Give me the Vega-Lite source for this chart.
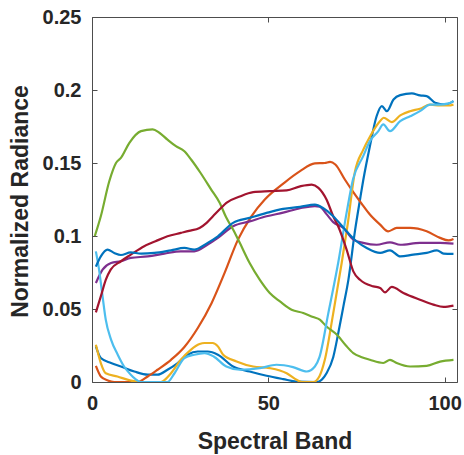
{
  "$schema": "https://vega.github.io/schema/vega-lite/v6.json",
  "width": 365,
  "height": 365,
  "autosize": "none",
  "padding": {"left": 92, "top": 17, "right": 7, "bottom": 73},
  "background": "white",
  "config": {
    "view": {"stroke": "#4d4d4d", "strokeWidth": 1},
    "axis": {
      "labelFont": "Liberation Sans",
      "labelFontWeight": "bold",
      "labelFontSize": 20,
      "labelColor": "#262626",
      "labelFlush": false,
      "titleFont": "Liberation Sans",
      "titleFontWeight": "bold",
      "titleFontSize": 23,
      "titleColor": "#262626",
      "grid": false,
      "domain": false,
      "tickColor": "#4d4d4d",
      "tickSize": -5,
      "tickWidth": 1
    }
  },
  "datasets": {
    "lines": [
      {"s":"b1","band":1.1,"v":0.0244},{"s":"b1","band":2.5,"v":0.0164},{"s":"b1","band":5.4,"v":0.013},{"s":"b1","band":8.2,"v":0.0106},{"s":"b1","band":12,"v":0.0072},{"s":"b1","band":15.8,"v":0.005},{"s":"b1","band":18.6,"v":0.005},{"s":"b1","band":21.4,"v":0.0084},{"s":"b1","band":24.3,"v":0.013},{"s":"b1","band":27.1,"v":0.0187},{"s":"b1","band":30,"v":0.0209},{"s":"b1","band":32.8,"v":0.0209},{"s":"b1","band":35.7,"v":0.0187},{"s":"b1","band":40,"v":0.0106},{"s":"b1","band":44.7,"v":0.0072},{"s":"b1","band":49.5,"v":0.0043},{"s":"b1","band":54.2,"v":0.002},{"s":"b1","band":58,"v":0.0003},{"s":"b1","band":63.7,"v":0},{"s":"b1","band":66.5,"v":0.006},{"s":"b1","band":68.4,"v":0.017},{"s":"b1","band":69.8,"v":0.033},{"s":"b1","band":71.3,"v":0.052},{"s":"b1","band":72.7,"v":0.07},{"s":"b1","band":74.6,"v":0.104},{"s":"b1","band":76,"v":0.125},{"s":"b1","band":76.9,"v":0.138},{"s":"b1","band":78.8,"v":0.1615},{"s":"b1","band":80.7,"v":0.182},{"s":"b1","band":82.2,"v":0.189},{"s":"b1","band":83.6,"v":0.1855},{"s":"b1","band":85.5,"v":0.1935},{"s":"b1","band":87.4,"v":0.1965},{"s":"b1","band":90.7,"v":0.1977},{"s":"b1","band":93,"v":0.1963},{"s":"b1","band":94.9,"v":0.1958},{"s":"b1","band":97.3,"v":0.1913},{"s":"b1","band":100.1,"v":0.19},{"s":"b1","band":102.5,"v":0.1924},

      {"s":"or","band":1.1,"v":0.011},{"s":"or","band":2.5,"v":0.0038},{"s":"or","band":4.5,"v":0.001},{"s":"or","band":6.3,"v":0},{"s":"or","band":12.9,"v":0},{"s":"or","band":15.8,"v":0.0038},{"s":"or","band":18.6,"v":0.0084},{"s":"or","band":22.4,"v":0.0152},{"s":"or","band":26.2,"v":0.024},{"s":"or","band":30,"v":0.037},{"s":"or","band":33.9,"v":0.054},{"s":"or","band":37.6,"v":0.0747},{"s":"or","band":41.4,"v":0.0975},{"s":"or","band":45.2,"v":0.1135},{"s":"or","band":49,"v":0.125},{"s":"or","band":54.5,"v":0.1364},{"s":"or","band":59,"v":0.1444},{"s":"or","band":63.2,"v":0.1497},{"s":"or","band":66,"v":0.15},{"s":"or","band":67.5,"v":0.1508},{"s":"or","band":69,"v":0.149},{"s":"or","band":71.7,"v":0.1387},{"s":"or","band":73.6,"v":0.1318},{"s":"or","band":75,"v":0.127},{"s":"or","band":76.5,"v":0.122},{"s":"or","band":78.8,"v":0.1147},{"s":"or","band":81.7,"v":0.1078},{"s":"or","band":84,"v":0.1032},{"s":"or","band":86.4,"v":0.1055},{"s":"or","band":90.2,"v":0.1055},{"s":"or","band":94.9,"v":0.1032},{"s":"or","band":98.7,"v":0.0987},{"s":"or","band":101.1,"v":0.097},{"s":"or","band":102.5,"v":0.098},

      {"s":"ye","band":1.1,"v":0.0255},{"s":"ye","band":2.5,"v":0.013},{"s":"ye","band":3.9,"v":0.006},{"s":"ye","band":7.2,"v":0.0038},{"s":"ye","band":11,"v":0.001},{"s":"ye","band":13.9,"v":0},{"s":"ye","band":19.5,"v":0},{"s":"ye","band":22.4,"v":0.006},{"s":"ye","band":25.2,"v":0.0152},{"s":"ye","band":28,"v":0.022},{"s":"ye","band":30.5,"v":0.026},{"s":"ye","band":31.9,"v":0.0267},{"s":"ye","band":34.2,"v":0.0267},{"s":"ye","band":35.7,"v":0.0244},{"s":"ye","band":37.2,"v":0.0187},{"s":"ye","band":41,"v":0.0141},{"s":"ye","band":45.7,"v":0.0106},{"s":"ye","band":50.4,"v":0.0095},{"s":"ye","band":55.2,"v":0.006},{"s":"ye","band":58,"v":0.0015},{"s":"ye","band":59.5,"v":0},{"s":"ye","band":62.7,"v":0},{"s":"ye","band":64.5,"v":0.004},{"s":"ye","band":66,"v":0.015},{"s":"ye","band":68.4,"v":0.047},{"s":"ye","band":70.8,"v":0.0815},{"s":"ye","band":72.5,"v":0.108},{"s":"ye","band":74.5,"v":0.1433},{"s":"ye","band":76.9,"v":0.159},{"s":"ye","band":78.8,"v":0.168},{"s":"ye","band":81.7,"v":0.1787},{"s":"ye","band":82.7,"v":0.181},{"s":"ye","band":85,"v":0.178},{"s":"ye","band":87.4,"v":0.1826},{"s":"ye","band":90.2,"v":0.1855},{"s":"ye","band":93,"v":0.1872},{"s":"ye","band":95.9,"v":0.19},{"s":"ye","band":98.7,"v":0.1894},{"s":"ye","band":101.1,"v":0.1894},{"s":"ye","band":102.5,"v":0.19},

      {"s":"pu","band":1.1,"v":0.0678},{"s":"pu","band":3,"v":0.077},{"s":"pu","band":5.4,"v":0.0815},{"s":"pu","band":8.2,"v":0.0827},{"s":"pu","band":11,"v":0.085},{"s":"pu","band":15.8,"v":0.086},{"s":"pu","band":20.5,"v":0.0879},{"s":"pu","band":25.2,"v":0.0895},{"s":"pu","band":29,"v":0.0895},{"s":"pu","band":32.8,"v":0.0941},{"s":"pu","band":35.7,"v":0.0987},{"s":"pu","band":40,"v":0.1067},{"s":"pu","band":44.7,"v":0.11},{"s":"pu","band":49.5,"v":0.1135},{"s":"pu","band":54.2,"v":0.116},{"s":"pu","band":59,"v":0.119},{"s":"pu","band":63.2,"v":0.1205},{"s":"pu","band":64.6,"v":0.12},{"s":"pu","band":66.5,"v":0.115},{"s":"pu","band":68.4,"v":0.1095},{"s":"pu","band":71.3,"v":0.1055},{"s":"pu","band":74.1,"v":0.0975},{"s":"pu","band":76.9,"v":0.0953},{"s":"pu","band":80.7,"v":0.094},{"s":"pu","band":84.5,"v":0.0957},{"s":"pu","band":87.4,"v":0.094},{"s":"pu","band":93,"v":0.0953},{"s":"pu","band":98.7,"v":0.0953},{"s":"pu","band":102.5,"v":0.0948},

      {"s":"gr","band":0.8,"v":0.1},{"s":"gr","band":2.5,"v":0.1135},{"s":"gr","band":4.9,"v":0.1375},{"s":"gr","band":6.8,"v":0.15},{"s":"gr","band":8.2,"v":0.1535},{"s":"gr","band":10.6,"v":0.1638},{"s":"gr","band":13.9,"v":0.1718},{"s":"gr","band":17.2,"v":0.173},{"s":"gr","band":19.1,"v":0.1707},{"s":"gr","band":21.4,"v":0.166},{"s":"gr","band":23.8,"v":0.1615},{"s":"gr","band":26.2,"v":0.158},{"s":"gr","band":28.1,"v":0.1524},{"s":"gr","band":30.7,"v":0.1435},{"s":"gr","band":33.8,"v":0.1318},{"s":"gr","band":36.2,"v":0.1227},{"s":"gr","band":38,"v":0.113},{"s":"gr","band":40,"v":0.1044},{"s":"gr","band":41.9,"v":0.0953},{"s":"gr","band":44.7,"v":0.0815},{"s":"gr","band":47.6,"v":0.07},{"s":"gr","band":50.4,"v":0.061},{"s":"gr","band":53.3,"v":0.0552},{"s":"gr","band":56.6,"v":0.0495},{"s":"gr","band":59.9,"v":0.0473},{"s":"gr","band":62.7,"v":0.0445},{"s":"gr","band":64.6,"v":0.0427},{"s":"gr","band":66.5,"v":0.038},{"s":"gr","band":69.6,"v":0.032},{"s":"gr","band":72,"v":0.025},{"s":"gr","band":74.1,"v":0.0198},{"s":"gr","band":76.5,"v":0.017},{"s":"gr","band":78.8,"v":0.0152},{"s":"gr","band":82.6,"v":0.013},{"s":"gr","band":84.5,"v":0.0152},{"s":"gr","band":86.4,"v":0.013},{"s":"gr","band":90.2,"v":0.0106},{"s":"gr","band":94.9,"v":0.011},{"s":"gr","band":98.7,"v":0.014},{"s":"gr","band":102.5,"v":0.0152},

      {"s":"lb","band":1.1,"v":0.0895},{"s":"lb","band":2,"v":0.077},{"s":"lb","band":3,"v":0.0586},{"s":"lb","band":3.9,"v":0.0427},{"s":"lb","band":5.4,"v":0.029},{"s":"lb","band":7.3,"v":0.0187},{"s":"lb","band":9.1,"v":0.0106},{"s":"lb","band":11,"v":0.005},{"s":"lb","band":12.9,"v":0.001},{"s":"lb","band":14,"v":0},{"s":"lb","band":21.4,"v":0},{"s":"lb","band":23.4,"v":0.006},{"s":"lb","band":26.2,"v":0.0164},{"s":"lb","band":29,"v":0.0187},{"s":"lb","band":31.9,"v":0.0198},{"s":"lb","band":34.5,"v":0.0175},{"s":"lb","band":38.1,"v":0.0106},{"s":"lb","band":41.9,"v":0.0084},{"s":"lb","band":47.6,"v":0.0095},{"s":"lb","band":52.3,"v":0.0118},{"s":"lb","band":57,"v":0.0102},{"s":"lb","band":60.9,"v":0.0072},{"s":"lb","band":63.2,"v":0.0106},{"s":"lb","band":64.5,"v":0.017},{"s":"lb","band":67,"v":0.047},{"s":"lb","band":69.8,"v":0.0815},{"s":"lb","band":72.2,"v":0.116},{"s":"lb","band":74,"v":0.1387},{"s":"lb","band":76.9,"v":0.1547},{"s":"lb","band":78.8,"v":0.165},{"s":"lb","band":81.2,"v":0.1718},{"s":"lb","band":82.6,"v":0.1764},{"s":"lb","band":84.5,"v":0.1718},{"s":"lb","band":87.4,"v":0.1787},{"s":"lb","band":90.2,"v":0.182},{"s":"lb","band":93,"v":0.1855},{"s":"lb","band":95.9,"v":0.19},{"s":"lb","band":98.7,"v":0.19},{"s":"lb","band":101.1,"v":0.1908},{"s":"lb","band":102.5,"v":0.1924},

      {"s":"dr","band":1.1,"v":0.0477},{"s":"dr","band":2.5,"v":0.0586},{"s":"dr","band":3.9,"v":0.07},{"s":"dr","band":5.3,"v":0.077},{"s":"dr","band":8.2,"v":0.0827},{"s":"dr","band":11,"v":0.0872},{"s":"dr","band":14.8,"v":0.093},{"s":"dr","band":18,"v":0.0964},{"s":"dr","band":21.4,"v":0.0998},{"s":"dr","band":25.2,"v":0.1021},{"s":"dr","band":27.5,"v":0.1035},{"s":"dr","band":30.5,"v":0.1055},{"s":"dr","band":32.5,"v":0.109},{"s":"dr","band":34.3,"v":0.1135},{"s":"dr","band":36.5,"v":0.119},{"s":"dr","band":38.1,"v":0.1227},{"s":"dr","band":41.9,"v":0.127},{"s":"dr","band":45.7,"v":0.13},{"s":"dr","band":50.4,"v":0.1307},{"s":"dr","band":55.2,"v":0.1313},{"s":"dr","band":59,"v":0.134},{"s":"dr","band":62.3,"v":0.1352},{"s":"dr","band":64.2,"v":0.133},{"s":"dr","band":66.5,"v":0.125},{"s":"dr","band":68.4,"v":0.1135},{"s":"dr","band":69.8,"v":0.1067},{"s":"dr","band":72.2,"v":0.0907},{"s":"dr","band":74.1,"v":0.0758},{"s":"dr","band":76,"v":0.07},{"s":"dr","band":79.8,"v":0.0655},{"s":"dr","band":81.7,"v":0.0644},{"s":"dr","band":83.1,"v":0.0614},{"s":"dr","band":85,"v":0.0651},{"s":"dr","band":88.3,"v":0.061},{"s":"dr","band":93,"v":0.0564},{"s":"dr","band":96.8,"v":0.053},{"s":"dr","band":99.7,"v":0.0514},{"s":"dr","band":102.5,"v":0.0523},

      {"s":"b2","band":1.1,"v":0.079},{"s":"b2","band":2.5,"v":0.086},{"s":"b2","band":4.4,"v":0.0907},{"s":"b2","band":6.3,"v":0.0884},{"s":"b2","band":8.2,"v":0.087},{"s":"b2","band":11,"v":0.0888},{"s":"b2","band":13.9,"v":0.0879},{"s":"b2","band":17.7,"v":0.0884},{"s":"b2","band":22.4,"v":0.0902},{"s":"b2","band":26.2,"v":0.0918},{"s":"b2","band":29,"v":0.0907},{"s":"b2","band":32.8,"v":0.0953},{"s":"b2","band":35.7,"v":0.0998},{"s":"b2","band":40,"v":0.109},{"s":"b2","band":44.7,"v":0.1124},{"s":"b2","band":49.5,"v":0.1158},{"s":"b2","band":54.2,"v":0.1186},{"s":"b2","band":59,"v":0.12},{"s":"b2","band":63.2,"v":0.1215},{"s":"b2","band":65.6,"v":0.119},{"s":"b2","band":68.4,"v":0.1135},{"s":"b2","band":72.2,"v":0.1032},{"s":"b2","band":75,"v":0.0964},{"s":"b2","band":77.9,"v":0.0918},{"s":"b2","band":81.7,"v":0.0884},{"s":"b2","band":84.5,"v":0.0902},{"s":"b2","band":87.4,"v":0.086},{"s":"b2","band":91.1,"v":0.0872},{"s":"b2","band":94.9,"v":0.0884},{"s":"b2","band":97.8,"v":0.0902},{"s":"b2","band":99.7,"v":0.0879},{"s":"b2","band":102.5,"v":0.0877}
    ]
  },
  "data": {"name": "lines"},
  "layer": [
    {
      "mark": {"type": "line", "strokeWidth": 2.2, "interpolate": "monotone", "clip": true},
      "encoding": {
        "x": {
          "field": "band", "type": "quantitative",
          "scale": {"domain": [0, 103.5], "nice": false, "zero": false},
          "axis": {"values": [0, 50, 100], "title": "Spectral Band", "labelPadding": 16, "labelBaseline": "top", "titleY": 66, "titleBaseline": "alphabetic"}
        },
        "y": {
          "field": "v", "type": "quantitative",
          "scale": {"domain": [0, 0.25], "nice": false},
          "axis": {"values": [0, 0.05, 0.1, 0.15, 0.2, 0.25], "format": ".2~f", "title": "Normalized Radiance", "labelPadding": 16, "titleX": -65, "titleY": 184, "titleAngle": -90, "titleBaseline": "alphabetic", "titleAlign": "center"}
        },
        "color": {
          "field": "s", "type": "nominal", "legend": null,
          "scale": {
            "domain": ["b1", "or", "ye", "pu", "gr", "lb", "dr", "b2"],
            "range": ["#0072BD", "#D95319", "#EDB120", "#7E2F8E", "#77AC30", "#4DBEEE", "#A2142F", "#0072BD"]
          }
        },
        "order": {"field": "band", "type": "quantitative"}
      }
    },
    {
      "mark": {"type": "line", "opacity": 0},
      "encoding": {
        "x": {"field": "band", "type": "quantitative", "axis": {"orient": "top", "values": [0, 50, 100], "labels": false, "title": null}},
        "y": {"field": "v", "type": "quantitative", "axis": {"orient": "right", "values": [0, 0.05, 0.1, 0.15, 0.2, 0.25], "labels": false, "title": null}},
        "detail": {"field": "s"}
      }
    }
  ],
  "resolve": {"axis": {"x": "independent", "y": "independent"}}
}
